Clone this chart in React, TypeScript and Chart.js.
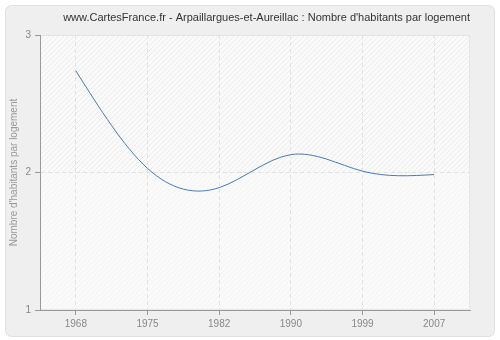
import React, { useEffect, useRef } from 'react';
import { Chart, registerables } from 'chart.js';

Chart.register(...registerables);

const TITLE = "www.CartesFrance.fr - Arpaillargues-et-Aureillac : Nombre d'habitants par logement";
const Y_TITLE = "Nombre d'habitants par logement";
const years = ['1968', '1975', '1982', '1990', '1999', '2007'];
const values = [2.74, 2.03, 1.89, 2.13, 2.01, 1.985];
const yTicks = [1, 2, 3];

const FONT = "'Liberation Sans', Arial, sans-serif";
const LINE_COLOR = '#4a7ab5';

function makePattern(ctx: CanvasRenderingContext2D, bg: string, stripe: string) {
  const s = 5;
  const c = document.createElement('canvas');
  c.width = s;
  c.height = s;
  const g = c.getContext('2d')!;
  g.fillStyle = bg;
  g.fillRect(0, 0, s, s);
  g.strokeStyle = stripe;
  g.lineWidth = 1;
  g.beginPath();
  g.moveTo(0, s);
  g.lineTo(s, 0);
  g.moveTo(-s, s);
  g.lineTo(s, -s);
  g.moveTo(0, 2 * s);
  g.lineTo(2 * s, 0);
  g.stroke();
  return ctx.createPattern(c, 'repeat');
}

function roundRect(ctx: CanvasRenderingContext2D, x: number, y: number, w: number, h: number, r: number) {
  ctx.beginPath();
  ctx.moveTo(x + r, y);
  ctx.lineTo(x + w - r, y);
  ctx.arcTo(x + w, y, x + w, y + r, r);
  ctx.lineTo(x + w, y + h - r);
  ctx.arcTo(x + w, y + h, x + w - r, y + h, r);
  ctx.lineTo(x + r, y + h);
  ctx.arcTo(x, y + h, x, y + h - r, r);
  ctx.lineTo(x, y + r);
  ctx.arcTo(x, y, x + r, y, r);
  ctx.closePath();
}

const bgPlugin = {
  id: 'bgPlugin',
  beforeDraw(chart: any) {
    const { ctx, width, height, chartArea } = chart;
    ctx.save();
    ctx.fillStyle = '#ffffff';
    ctx.fillRect(0, 0, width, height);
    roundRect(ctx, 5.5, 5.5, width - 11, height - 9, 6);
    ctx.fillStyle = '#efefef';
    ctx.fill();
    ctx.strokeStyle = '#e0e0e0';
    ctx.lineWidth = 1;
    ctx.stroke();
    const y2 = chart.scales.y.getPixelForValue(2);
    const up = makePattern(ctx, '#fafafa', '#ececec');
    const low = makePattern(ctx, '#fafafa', '#f3f3f3');
    ctx.fillStyle = up;
    ctx.fillRect(chartArea.left, chartArea.top, chartArea.right - chartArea.left, y2 - chartArea.top);
    ctx.fillStyle = low;
    ctx.fillRect(chartArea.left, y2, chartArea.right - chartArea.left, chartArea.bottom - y2);
    ctx.strokeStyle = '#e6e6e6';
    ctx.strokeRect(chartArea.left + 0.5, chartArea.top + 0.5, chartArea.right - chartArea.left - 1, chartArea.bottom - chartArea.top - 1);
    ctx.restore();
  },
};

// Natural cubic spline through the dataset's points, as positioned by the chart's scales.
const splinePlugin = {
  id: 'splinePlugin',
  afterDatasetsDraw(chart: any) {
    const meta = chart.getDatasetMeta(0);
    const pts = meta.data.map((p: any) => ({ x: p.x, y: p.y }));
    const n = pts.length;
    if (n < 2) return;
    const h: number[] = [];
    for (let i = 0; i < n - 1; i++) h.push(pts[i + 1].x - pts[i].x);
    const M = new Array(n).fill(0);
    if (n > 2) {
      const a: number[] = [], b: number[] = [], c: number[] = [], d: number[] = [];
      for (let i = 1; i < n - 1; i++) {
        a.push(h[i - 1]);
        b.push(2 * (h[i - 1] + h[i]));
        c.push(h[i]);
        d.push(6 * ((pts[i + 1].y - pts[i].y) / h[i] - (pts[i].y - pts[i - 1].y) / h[i - 1]));
      }
      const m = b.length;
      for (let i = 1; i < m; i++) {
        const w = a[i] / b[i - 1];
        b[i] -= w * c[i - 1];
        d[i] -= w * d[i - 1];
      }
      const sol = new Array(m).fill(0);
      sol[m - 1] = d[m - 1] / b[m - 1];
      for (let i = m - 2; i >= 0; i--) sol[i] = (d[i] - c[i] * sol[i + 1]) / b[i];
      for (let i = 0; i < m; i++) M[i + 1] = sol[i];
    }
    const { ctx, chartArea } = chart;
    ctx.save();
    ctx.beginPath();
    ctx.rect(chartArea.left, chartArea.top, chartArea.right - chartArea.left, chartArea.bottom - chartArea.top);
    ctx.clip();
    ctx.strokeStyle = LINE_COLOR;
    ctx.lineWidth = 1;
    ctx.beginPath();
    ctx.moveTo(pts[0].x, pts[0].y);
    for (let i = 0; i < n - 1; i++) {
      const hi = h[i];
      const y0 = pts[i].y, y1 = pts[i + 1].y;
      const s = (y1 - y0) / hi;
      const d0 = s - (hi * (2 * M[i] + M[i + 1])) / 6;
      const d1 = s + (hi * (M[i] + 2 * M[i + 1])) / 6;
      ctx.bezierCurveTo(
        pts[i].x + hi / 3, y0 + (d0 * hi) / 3,
        pts[i + 1].x - hi / 3, y1 - (d1 * hi) / 3,
        pts[i + 1].x, y1
      );
    }
    ctx.stroke();
    ctx.restore();
  },
};

export default function App() {
  const ref = useRef<HTMLCanvasElement>(null);
  useEffect(() => {
    if (!ref.current) return;
    const chart = new Chart(ref.current, {
      type: 'line',
      data: {
        labels: years,
        datasets: [
          {
            data: values,
            borderColor: LINE_COLOR,
            borderWidth: 1,
            pointRadius: 0,
            showLine: false,
            fill: false,
          },
        ],
      },
      options: {
        responsive: false,
        animation: false,
        layout: { padding: { left: 0, right: 30, top: 0, bottom: 0 } },
        plugins: {
          legend: { display: false },
          tooltip: { enabled: false },
          title: {
            display: true,
            text: TITLE,
            align: 'end',
            color: '#333333',
            font: { family: FONT, size: 11, weight: 'normal' },
            padding: { top: 11, bottom: 10.8 },
          },
        },
        scales: {
          x: {
            type: 'category',
            offset: true,
            grid: {
              offset: false,
              color: '#e2e2e2',
              tickColor: '#999999',
              tickLength: 5,
              tickBorderDash: [],
            },
            border: { color: '#999999', dash: [4, 3] },
            ticks: {
              color: '#888888',
              font: { family: FONT, size: 10 },
              padding: 3,
              maxRotation: 0,
            },
            afterFit: (s: any) => {
              s.height = 30;
            },
          },
          y: {
            min: 1,
            max: 3,
            afterBuildTicks: (s: any) => {
              s.ticks = yTicks.map((v) => ({ value: v }));
            },
            grid: {
              color: '#e2e2e2',
              tickColor: '#999999',
              tickLength: 5,
              tickBorderDash: [],
            },
            border: { color: '#999999', dash: [4, 3] },
            ticks: {
              color: '#888888',
              font: { family: FONT, size: 10 },
              padding: 4,
            },
            title: {
              display: true,
              text: Y_TITLE,
              color: '#999999',
              font: { family: FONT, size: 10 },
              padding: { top: 8, bottom: 0 },
            },
            afterFit: (s: any) => {
              s.width = 40;
            },
          },
        },
      },
      plugins: [bgPlugin, splinePlugin],
    });
    return () => chart.destroy();
  }, []);
  return (
    <div style={{ position: 'fixed', left: 0, top: 0, width: 500, height: 340 }}>
      <canvas ref={ref} width={500} height={340} style={{ display: 'block' }} />
    </div>
  );
}
